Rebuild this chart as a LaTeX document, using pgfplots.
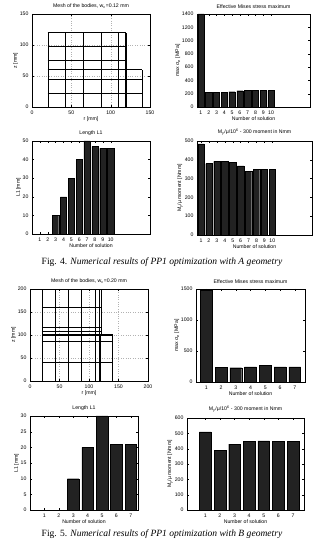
\documentclass[border=0pt]{standalone}
\usepackage{pgfplots}
\pgfplotsset{compat=1.18}
\usepackage{fontspec}
\setmainfont{Liberation Sans}
\newfontfamily\capfont{Liberation Serif}
\definecolor{barc}{HTML}{222222}
\newcommand{\sm}{\fontsize{5.2}{6}\selectfont}
\pgfplotsset{
  mst/.style={scale only axis, anchor=south west,
    font=\sm, tick label style={font=\sm}, label style={font=\sm},
    title style={font=\sm, yshift=-4pt},
    xlabel style={yshift=4pt}, ylabel style={yshift=-5pt},
    axis line style={line width=0.4pt}, tick align=inside,
    major tick length=2pt, tick style={line width=0.3pt, black},
    /pgf/number format/assume math mode=true,
    /pgf/number format/1000 sep={},
    clip=true},
  barst/.style={mst, ymin=0, xlabel={Number of solution}},
  meshgrid/.style={mst, grid=major, grid style={dotted, gray!60, line width=0.3pt}},
  bp/.style={ybar, fill=barc, draw=black, line width=0.3pt},
  ml/.style={black, line width=0.45pt, unbounded coords=jump, mark=none},
  mt/.style={black, line width=1.1pt, unbounded coords=jump, mark=none}
}
\begin{document}
\begin{tikzpicture}[x=1bp,y=1bp]
\useasboundingbox (0,0) rectangle (333,543);
% ---------- Fig 4 ----------
\begin{axis}[meshgrid, at={(32bp,436bp)}, width=118bp, height=93bp,
  xmin=0, xmax=150, ymin=0, ymax=150, xtick={0,50,100,150}, ytick={0,50,100,150},
  title={Mesh of the bodies, w\textsubscript{c}=0.12 mm}, xlabel={r [mm]}, ylabel={z [mm]}]
\addplot[ml] coordinates {(20,0)(20,120) (nan,nan) (42,0)(42,120) (nan,nan) (65,0)(65,120) (nan,nan)
 (88,0)(88,120) (nan,nan) (110,0)(110,120) (nan,nan) (118,0)(118,120) (nan,nan) (120,60)(120,120) (nan,nan)
 (20,120)(120,120) (nan,nan) (20,98)(120,98) (nan,nan) (20,76)(120,76) (nan,nan)
 (20,0)(140,0) (nan,nan) (20,23)(140,23) (nan,nan) (20,45)(140,45) (nan,nan) (140,0)(140,60)};
\addplot[mt] coordinates {(20,60)(140,60) (nan,nan) (120,0)(120,60)};
\end{axis}
\begin{axis}[barst, at={(197bp,436bp)}, width=113bp, height=93bp,
  xmin=0.5, xmax=15, ymax=1400, xtick={1,...,10}, ytick={0,200,...,1400},
  title={Effective Mises stress maximum}, ylabel={max σ\textsubscript{e} [MPa]}]
\addplot[bp, bar width=0.8] coordinates {(1,1400)(2,220)(3,220)(4,222)(5,230)(6,245)(7,250)(8,250)(9,248)(10,248)};
\end{axis}
\begin{axis}[barst, at={(32bp,309bp)}, width=118bp, height=93bp,
  xmin=0, xmax=15, ymax=50, xtick={1,...,10}, ytick={0,10,...,50},
  title={Length L1}, ylabel={L1 [mm]}]
\addplot[bp, bar width=0.8] coordinates {(3,10)(4,20)(5,30)(6,40)(7,50)(8,47)(9,46)(10,46)};
\end{axis}
\begin{axis}[barst, at={(197bp,308bp)}, width=115bp, height=94bp,
  xmin=0.5, xmax=15, ymax=500, xtick={1,...,10}, ytick={0,100,...,500},
  title={M\textsubscript{y}/μ/10\textsuperscript{6} - 300 moment in Nmm}, ylabel={M\textsubscript{y}/μ moment [Nmm]}]
\addplot[bp, bar width=0.8] coordinates {(1,485)(2,380)(3,392)(4,392)(5,385)(6,368)(7,340)(8,350)(9,350)(10,350)};
\end{axis}
\node[font=\capfont\fontsize{9.6}{11}\selectfont, anchor=base] at (162,278) {Fig. 4. \textit{Numerical results of PP1 optimization with A geometry}};
% ---------- Fig 5 ----------
\begin{axis}[meshgrid, at={(30bp,162bp)}, width=118bp, height=92bp,
  xmin=0, xmax=200, ymin=0, ymax=200, xtick={0,50,...,200}, ytick={0,50,...,200},
  title={Mesh of the bodies, w\textsubscript{c}=0.20 mm}, xlabel={r [mm]}, ylabel={z [mm]}]
\addplot[ml] coordinates {(20,0)(20,200) (nan,nan) (42,0)(42,200) (nan,nan) (64,0)(64,200) (nan,nan)
 (87,0)(87,200) (nan,nan) (110,0)(110,200) (nan,nan) (117,0)(117,200) (nan,nan) (120,100)(120,200) (nan,nan)
 (20,200)(120,200) (nan,nan) (20,160)(120,160) (nan,nan) (20,117)(120,117) (nan,nan) (20,109)(120,109) (nan,nan)
 (20,0)(140,0) (nan,nan) (20,41)(140,41) (nan,nan) (20,87)(140,87) (nan,nan) (140,0)(140,100)};
\addplot[mt] coordinates {(20,100)(140,100) (nan,nan) (120,0)(120,100)};
\end{axis}
\begin{axis}[barst, at={(196bp,161bp)}, width=109bp, height=93bp,
  xmin=0.3, xmax=7.7, ymax=1500, xtick={1,...,7}, ytick={0,500,1000,1500},
  title={Effective Mises stress maximum}, ylabel={max σ\textsubscript{e} [MPa]}]
\addplot[bp, bar width=0.8] coordinates {(1,1480)(2,235)(3,230)(4,245)(5,265)(6,245)(7,245)};
\end{axis}
\begin{axis}[barst, at={(30bp,33bp)}, width=108bp, height=94bp,
  xmin=0, xmax=7.5, ymax=30, xtick={1,...,7}, ytick={0,5,...,30},
  title={Length L1}, ylabel={L1 [mm]}]
\addplot[bp, bar width=0.8] coordinates {(3,10)(4,20)(5,30)(6,21)(7,21)};
\end{axis}
\begin{axis}[barst, at={(187bp,33bp)}, width=117bp, height=92bp,
  xmin=-0.25, xmax=7.75, ymax=600, xtick={1,...,7}, ytick={0,100,...,600},
  title={M\textsubscript{y}/μ/10\textsuperscript{6} - 300 moment in Nmm}, ylabel={M\textsubscript{y}/μ moment [Nmm]}]
\addplot[bp, bar width=0.8] coordinates {(1,510)(2,390)(3,430)(4,447)(5,450)(6,448)(7,447)};
\end{axis}
\node[font=\capfont\fontsize{9.6}{11}\selectfont, anchor=base] at (162,6) {Fig. 5. \textit{Numerical results of PP1 optimization with B geometry}};
\end{tikzpicture}
\end{document}
